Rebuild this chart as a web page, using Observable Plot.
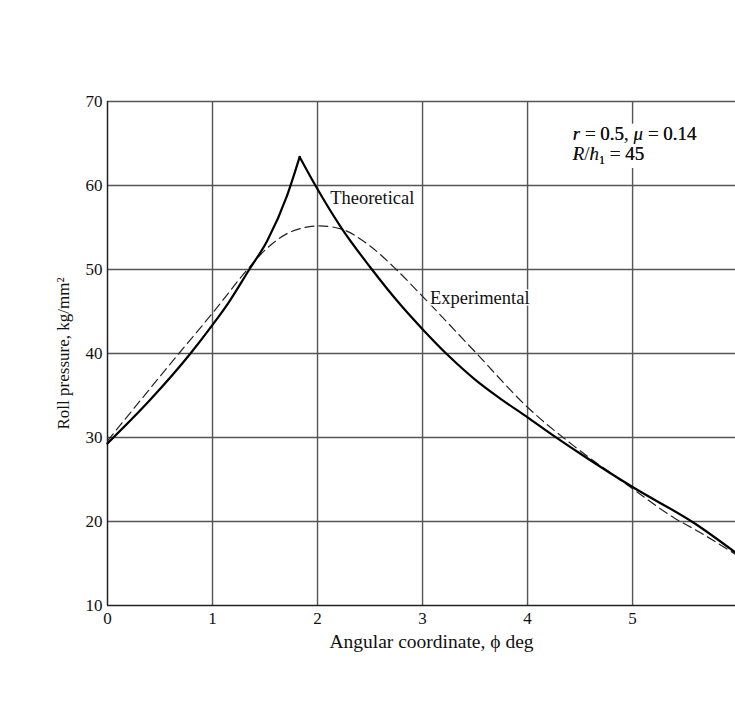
<!DOCTYPE html>
<html><head><meta charset="utf-8">
<script src="https://cdn.jsdelivr.net/npm/d3@7"></script>
<script src="https://cdn.jsdelivr.net/npm/@observablehq/plot@0.6"></script>
<style>
html,body{margin:0;padding:0;background:#fff;}
</style></head><body><div id="chart"></div>
<script>
// Theoretical curve (solid)
const theoAngle    = [0, 0.4, 0.79, 1.0, 1.15, 1.35, 1.52, 1.71, 1.83, 1.98, 2.23, 2.5, 2.79, 3.0, 3.25, 3.5, 3.75, 4.0, 4.25, 4.5, 5.0, 5.6, 5.98];
const theoPressure = [29.3, 34.4, 40.0, 43.4, 46.0, 50.0, 53.4, 58.8, 63.4, 60.0, 54.9, 50.3, 45.8, 42.9, 39.7, 36.9, 34.55, 32.4, 30.2, 28.1, 24.1, 19.7, 16.3];
const theoPeakIndex = 8;
// Experimental curve (dashed)
const expAngle    = [0, 0.68, 1.0, 1.36, 1.5, 1.75, 2.02, 2.23, 2.5, 2.75, 3.0, 3.5, 4.0, 4.44, 4.9, 5.0, 5.4, 5.6, 5.98];
const expPressure = [29.6, 40.0, 44.8, 50.4, 52.3, 54.5, 55.2, 54.8, 52.8, 50.0, 46.8, 40.2, 33.6, 29.0, 24.8, 23.9, 20.4, 19.0, 16.1];
// Axes
const xTicks = [0, 1, 2, 3, 4, 5];
const yTicks = [10, 20, 30, 40, 50, 60, 70];
const xDomain = [0, 5.98];
const yDomain = [10, 70];
const xTitle = "Angular coordinate, ϕ deg";
const yTitle = "Roll pressure, kg/mm²";
// Labels
const curveLabels = ["Theoretical", "Experimental"];
const curveLabelAngle = [2.12, 3.07];
const curveLabelPressure = [58.45, 46.55];
const noteLines = ["r = 0.5, μ = 0.14", "R/h1 = 45"];
const noteAngle = [4.43, 4.43];
const notePressure = [66.2, 63.8];

const theo = theoAngle.flatMap((a, i) => {
  const rows = [];
  if (i <= theoPeakIndex) rows.push({angle: a, pressure: theoPressure[i], part: "rise"});
  if (i >= theoPeakIndex) rows.push({angle: a, pressure: theoPressure[i], part: "fall"});
  return rows;
});
const exp = expAngle.map((a, i) => ({angle: a, pressure: expPressure[i]}));
const labels = curveLabels.map((t, i) => ({t, angle: curveLabelAngle[i], pressure: curveLabelPressure[i]}));
const notes = noteLines.map((t, i) => ({t, angle: noteAngle[i], pressure: notePressure[i]}));

const chart = Plot.plot({
  width: 735, height: 712,
  marginLeft: 107, marginRight: 0, marginTop: 101, marginBottom: 107,
  style: {fontFamily: "'Liberation Serif', 'Times New Roman', serif", fontSize: "17px", color: "#111", background: "#fff", overflow: "visible"},
  x: {domain: xDomain, ticks: xTicks, tickSize: 0, tickPadding: 6, tickFormat: d => String(d), label: null},
  y: {domain: yDomain, ticks: yTicks, tickSize: 0, tickPadding: 5, tickFormat: d => String(d), label: null},
  marks: [
    Plot.ruleX(xTicks.slice(1), {stroke: "#555", strokeWidth: 1.4}),
    Plot.ruleY(yTicks.slice(1), {stroke: "#555", strokeWidth: 1.4}),
    Plot.ruleX([0], {stroke: "#222", strokeWidth: 1.5}),
    Plot.ruleY([10], {stroke: "#222", strokeWidth: 1.6}),
    Plot.line(exp, {x: "angle", y: "pressure", stroke: "#222", strokeWidth: 1.2, strokeDasharray: "9,5", curve: "monotone-x"}),
    Plot.line(theo, {x: "angle", y: "pressure", z: "part", stroke: "#000", strokeWidth: 2.2, curve: "monotone-x"}),
    Plot.text(labels, {x: "angle", y: "pressure", text: "t", textAnchor: "start", lineAnchor: "middle", fill: "#111", stroke: "white", strokeWidth: 3, fontSize: 18.5}),
    Plot.text(notes, {x: "angle", y: "pressure", text: "t", textAnchor: "start", lineAnchor: "middle", fill: "#111", stroke: "white", strokeWidth: 16, fontSize: 19}),
    Plot.text(notes, {x: "angle", y: "pressure", text: "t", textAnchor: "start", lineAnchor: "middle", fill: "#111", fontSize: 19}),
    Plot.text([xTitle], {text: d => d, frameAnchor: "bottom", textAnchor: "middle", dy: 36, dx: 10, lineAnchor: "middle", fill: "#111", fontSize: 19.5}),
    Plot.text([yTitle], {text: d => d, frameAnchor: "left", textAnchor: "middle", rotate: -90, dx: -44, lineAnchor: "middle", fill: "#111", fontSize: 17})
  ]
});
document.getElementById("chart").appendChild(chart);

// Italic variables and subscript in the parameter note
const rich = {
  [noteLines[0]]: '<tspan font-style="italic">r</tspan> = 0.5, <tspan font-style="italic">μ</tspan> = 0.14',
  [noteLines[1]]: '<tspan font-style="italic">R</tspan>/<tspan font-style="italic">h</tspan><tspan font-size="12" dy="4">1</tspan><tspan dy="-4"> = 45</tspan>'
};
chart.querySelectorAll("text").forEach(el => {
  const r = rich[el.textContent];
  if (r) el.innerHTML = r;
});
</script>
</body></html>
